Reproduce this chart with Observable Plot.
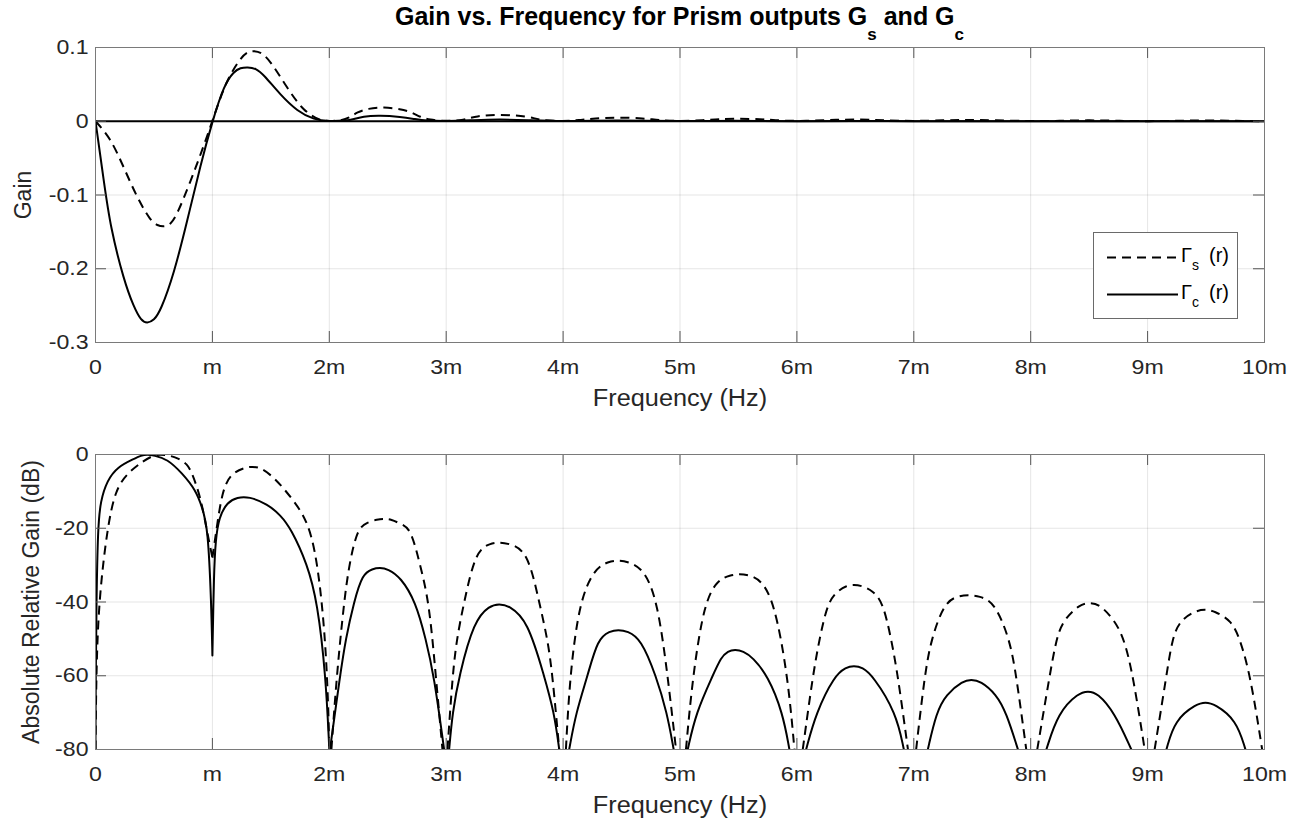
<!DOCTYPE html>
<html>
<head>
<meta charset="utf-8">
<script src="https://cdn.jsdelivr.net/npm/d3@7"></script>
<script src="https://cdn.jsdelivr.net/npm/@observablehq/plot@0.6"></script>
<style>
  body { margin: 0; background: #fff; }
  #wrap { position: relative; width: 1292px; height: 826px; font-family: "Liberation Sans", Arial, Helvetica, sans-serif; color: #262626; overflow: hidden; }
  #title { position: absolute; left: 95px; width: 1169px; top: 4px; text-align: center; font-weight: bold; font-size: 25px; line-height: 24px; color: #000; white-space: nowrap; }
  #title .sub { font-size: 17px; position: relative; top: 15px; }
  #top { position: absolute; left: 0; top: 36px; }
  #bot { position: absolute; left: 0; top: 408px; }
</style>
</head>
<body>
<div id="wrap">
  <div id="title">Gain vs. Frequency for Prism outputs G<span class="sub">s</span> and G<span class="sub">c</span></div>
  <div id="top"></div>
  <div id="bot"></div>
</div>
<script>
// ---- tick values and labels ----
const xTicks = [0, 1, 2, 3, 4, 5, 6, 7, 8, 9, 10];
const xTickLabels = ["0", "m", "2m", "3m", "4m", "5m", "6m", "7m", "8m", "9m", "10m"];
const gainTicks = [0.1, 0, -0.1, -0.2, -0.3];
const gainTickLabels = ["0.1", "0", "-0.1", "-0.2", "-0.3"];
const dbTicks = [0, -20, -40, -60, -80];
const dbTickLabels = ["0", "-20", "-40", "-60", "-80"];

// ---- top panel: Gain of Γs (dashed) ----
const gsFreq = [0, 0.128, 0.243, 0.357, 0.471, 0.53, 0.585, 0.64, 0.70, 0.814, 0.899, 1.0, 1.114, 1.24, 1.30, 1.356, 1.42, 1.5, 1.64, 1.78, 1.92, 2.0,
  2.1, 2.17, 2.24, 2.33, 2.466, 2.61, 2.7, 2.78, 2.854, 3.0,
  3.153, 3.253, 3.453, 3.696, 3.795, 4.0,
  4.138, 4.266, 4.467, 4.694, 4.809, 5.0,
  5.208, 5.322, 5.508, 5.693, 5.807, 6.0,
  6.264, 6.35, 6.487, 6.65, 6.735, 7.0,
  7.263, 7.463, 7.69, 8.0,
  8.219, 8.276, 8.504, 8.718, 8.8, 9.0,
  9.21, 9.275, 9.489, 9.717, 9.79, 10.0];
const gsGain = [0, -0.0225, -0.063, -0.104, -0.135, -0.1415, -0.143, -0.1405, -0.126, -0.081, -0.045, 0, 0.054, 0.0856, 0.0945, 0.0955, 0.0935, 0.081, 0.045, 0.0135, 0.001, 0,
  0.001, 0.0045, 0.0125, 0.0172, 0.0193, 0.0166, 0.0125, 0.0055, 0.002, 0,
  0.00143, 0.0072, 0.0092, 0.0072, 0.00143, 0,
  0.00143, 0.0040, 0.00525, 0.0040, 0.00143, 0,
  0.00143, 0.0029, 0.00343, 0.0029, 0.00143, 0,
  0.00143, 0.00202, 0.00246, 0.00202, 0.00143, 0,
  0.00143, 0.00178, 0.00143, 0,
  0.00045, 0.0008, 0.0014, 0.0008, 0.00045, 0,
  0.00045, 0.0008, 0.00114, 0.0008, 0.00045, 0];

// ---- top panel: Gain of Γc (solid) ----
const gcFreq = [0, 0.071, 0.128, 0.243, 0.328, 0.39, 0.442, 0.50, 0.557, 0.671, 0.785, 0.899, 1.0, 1.1, 1.185, 1.24, 1.30, 1.37, 1.44, 1.58, 1.727, 1.87, 2.0,
  2.14, 2.211, 2.283, 2.432, 2.611, 2.74, 2.825, 3.0,
  3.239, 3.453, 3.696, 4.0,
  4.295, 4.472, 4.666, 5.0,
  5.351, 5.471, 5.622, 6.0,
  6.487, 7.0, 7.491, 8.0, 8.49, 9.0, 9.495, 10.0];
const gcGain = [0, -0.081, -0.144, -0.216, -0.252, -0.2705, -0.274, -0.270, -0.257, -0.207, -0.135, -0.0586, 0, 0.0495, 0.0676, 0.0725, 0.0734, 0.072, 0.063, 0.036, 0.0135, 0.002, 0,
  0.00087, 0.00274, 0.0066, 0.0080, 0.0059, 0.00274, 0.00087, 0,
  0.00154, 0.00259, 0.00154, 0,
  0.00087, 0.00116, 0.00087, 0,
  0.00049, 0.00062, 0.00049, 0,
  0.000375, 0, 0.000244, 0, 0.00017, 0, 0.00012, 0];

// ---- bottom panel: dB of Γs (dashed); NaN = break (below -80 dB, or the notch at m) ----
const dsFreq = [0, 0.006, 0.027, 0.1, 0.17, 0.27, 0.414, 0.50, 0.556, 0.62, 0.70, 0.785, 0.828, 0.899, 0.949, 1.0, NaN,
  1.0, 1.036, 1.085, 1.156, 1.28, 1.342, 1.41, 1.527, 1.698, 1.855, 1.941, 1.984, 2.0, NaN,
  2.018, 2.063, 2.126, 2.169, 2.24, 2.326, 2.41, 2.466, 2.53, 2.611, 2.697, 2.777, 2.854, 2.911, 2.968, NaN,
  3.011, 3.054, 3.09, 3.153, 3.253, 3.38, 3.453, 3.53, 3.696, 3.795, 3.867, 3.91, 3.967, NaN,
  4.024, 4.058, 4.138, 4.266, 4.39, 4.467, 4.55, 4.694, 4.809, 4.895, 4.966, NaN,
  5.051, 5.109, 5.208, 5.322, 5.43, 5.508, 5.59, 5.693, 5.807, 5.922, 5.979, NaN,
  6.05, 6.136, 6.193, 6.264, 6.35, 6.42, 6.487, 6.56, 6.65, 6.735, 6.807, 6.864, 6.95, NaN,
  7.02, 7.092, 7.149, 7.263, 7.38, 7.463, 7.56, 7.69, 7.82, 7.877, 7.962, NaN,
  8.056, 8.162, 8.219, 8.276, 8.42, 8.504, 8.59, 8.718, 8.8, 8.876, 8.975, NaN,
  9.06, 9.161, 9.21, 9.275, 9.41, 9.489, 9.57, 9.717, 9.79, 9.88, 9.98];
const dsDb = [-80, -60, -40, -20, -9.6, -5.1, -1.6, -0.2, 0, -0.2, -0.9, -2.5, -5.2, -11.6, -20, -28, NaN,
  -28, -20, -9.8, -5.2, -3.5, -3.3, -3.5, -6.1, -12.5, -20, -40, -60, -80, NaN,
  -80, -60, -40, -30, -20, -18.4, -17.6, -17.4, -17.6, -18.8, -20, -30, -40, -60, -80, NaN,
  -80, -60, -50, -40, -26, -24.1, -23.8, -24.1, -26, -40, -50, -60, -80, NaN,
  -80, -60, -40, -31, -29.0, -28.7, -29.0, -31, -40, -60, -80, NaN,
  -80, -60, -40, -34, -32.7, -32.4, -32.7, -34, -40, -60, -80, NaN,
  -80, -60, -50, -40, -37, -35.6, -35.3, -35.6, -37, -40, -50, -60, -80, NaN,
  -80, -60, -50, -40, -38.4, -38.1, -38.4, -40, -50, -60, -80, NaN,
  -80, -60, -50, -45, -40.6, -40.2, -40.6, -45, -50, -60, -80, NaN,
  -80, -60, -50, -45, -42.4, -42, -42.4, -45, -50, -60, -80];

// ---- bottom panel: dB of Γc (solid) ----
const dcFreq = [0, 0.002, 0.008, 0.02, 0.043, 0.1, 0.186, 0.328, 0.39, 0.442, 0.50, 0.614, 0.742, 0.856, 0.913, 0.962, 0.99, 1.0, NaN,
  1.0, 1.013, 1.027, 1.056, 1.128, 1.213, 1.312, 1.47, 1.584, 1.67, 1.812, 1.898, 1.97, 2.0, NaN,
  2.006, 2.092, 2.14, 2.211, 2.283, 2.37, 2.432, 2.50, 2.611, 2.74, 2.825, 2.896, 2.982, NaN,
  3.025, 3.054, 3.11, 3.239, 3.37, 3.453, 3.54, 3.696, 3.838, 3.924, 3.967, NaN,
  4.052, 4.11, 4.21, 4.295, 4.40, 4.472, 4.55, 4.666, 4.795, 4.889, 4.946, NaN,
  5.066, 5.137, 5.28, 5.351, 5.41, 5.471, 5.54, 5.622, 5.751, 5.879, 5.936, NaN,
  6.079, 6.164, 6.321, 6.42, 6.487, 6.56, 6.65, 6.849, 6.915, NaN,
  7.12, 7.192, 7.277, 7.42, 7.491, 7.57, 7.705, 7.791, 7.891, NaN,
  8.134, 8.234, 8.41, 8.49, 8.57, 8.718, 8.861, NaN,
  9.161, 9.232, 9.42, 9.495, 9.57, 9.76, 9.837];
const dcDb = [-80, -60, -40, -20, -12.5, -7.05, -3.4, -1.2, -0.25, 0, -0.25, -1.2, -5.1, -9.6, -14.3, -20, -40, -54.5, NaN,
  -54.5, -32, -23.3, -17, -12.9, -11.6, -11.4, -13.4, -16.5, -20, -29.7, -40, -60, -80, NaN,
  -80, -60, -50, -40, -32.4, -31.0, -30.7, -31.0, -33.3, -40, -50, -60, -80, NaN,
  -80, -70, -60, -45, -41.0, -40.5, -41.0, -45, -60, -70, -80, NaN,
  -80, -70, -60, -50, -47.9, -47.5, -47.9, -50, -60, -70, -80, NaN,
  -80, -70, -60, -55, -53.3, -52.9, -53.3, -55, -60, -70, -80, NaN,
  -80, -70, -60, -57.7, -57.3, -57.7, -60, -70, -80, NaN,
  -80, -70, -65, -61.4, -61, -61.4, -65, -70, -80, NaN,
  -80, -70, -64.6, -64.2, -64.6, -70, -80, NaN,
  -80, -72, -67.6, -67.2, -67.6, -72, -80];

const rows = (xs, ys) => xs.map((x, i) => ({x, y: ys[i]}));

const FONT = '"Liberation Sans", Arial, Helvetica, sans-serif';
const W = 1292, MR = 28, ML = 95;
const PLOT_H = 295, PLOT_W = W - ML - MR;
const TICK_LEN = 11;
const gridColor = "#000", gridOpacity = 0.1;
const frameColor = "#7a7a7a";
const tickColor = "#555";
const DASH = "9,6";
const CURVE = "basis";

function panel({height, marginTop, marginBottom, yDomain, yTicks, yTickLabels, yLabel, yLabelDx, dashed, solid, extra}) {
  return Plot.plot({
    width: W, height, marginLeft: ML, marginRight: MR, marginTop, marginBottom,
    style: {fontFamily: FONT, fontSize: "21px", color: "#262626", background: "transparent", overflow: "visible"},
    x: {domain: [0, 10]},
    y: {domain: yDomain},
    marks: [
      Plot.gridX(xTicks, {stroke: gridColor, strokeOpacity: gridOpacity}),
      Plot.gridY(yTicks, {stroke: gridColor, strokeOpacity: gridOpacity}),
      ...(extra || []),
      Plot.line(dashed, {x: "x", y: "y", stroke: "black", strokeWidth: 2, strokeDasharray: DASH, strokeLinecap: "butt", curve: CURVE, clip: true}),
      Plot.line(solid, {x: "x", y: "y", stroke: "black", strokeWidth: 2, curve: CURVE, clip: true}),
      // inward ticks (top, bottom, left, right)
      Plot.tickX(xTicks, {x: d => d, stroke: tickColor, insetBottom: PLOT_H - TICK_LEN}),
      Plot.tickX(xTicks, {x: d => d, stroke: tickColor, insetTop: PLOT_H - TICK_LEN}),
      Plot.tickY(yTicks, {y: d => d, stroke: tickColor, insetRight: PLOT_W - TICK_LEN}),
      Plot.tickY(yTicks, {y: d => d, stroke: tickColor, insetLeft: PLOT_W - TICK_LEN}),
      Plot.frame({stroke: frameColor}),
      Plot.axisX(xTicks, {tickSize: 0, tickPadding: 17, tickFormat: d => xTickLabels[xTicks.indexOf(d)], label: null, fontSize: 21}),
      Plot.axisY(yTicks, {tickSize: 0, tickPadding: 7, tickFormat: d => yTickLabels[yTicks.indexOf(d)], label: null, fontSize: 21}),
      Plot.text(["Frequency (Hz)"], {text: d => d, frameAnchor: "bottom", dy: 56, lineAnchor: "middle", fontSize: 23}),
      Plot.text([yLabel], {text: d => d, frameAnchor: "left", dx: yLabelDx, rotate: -90, lineAnchor: "middle", textAnchor: "middle", fontSize: 23})
    ]
  });
}

// widen horizontal text slightly (the reference glyphs are a little wider than Arial)
function widen(svg, k) {
  svg.querySelectorAll("text").forEach(t => {
    const tr = (t.getAttribute("transform") || "");
    if (tr.includes("rotate")) return;
    const len = t.getComputedTextLength();
    if (len > 0) {
      t.setAttribute("textLength", (len * k).toFixed(2));
      t.setAttribute("lengthAdjust", "spacingAndGlyphs");
    }
  });
}

const topPlot = panel({
  height: 372, marginTop: 11, marginBottom: 66,
  yDomain: [-0.3, 0.1], yTicks: gainTicks, yTickLabels: gainTickLabels,
  yLabel: "Gain", yLabelDx: -72,
  dashed: rows(gsFreq, gsGain), solid: rows(gcFreq, gcGain),
  extra: [Plot.ruleY([0], {stroke: "black", strokeWidth: 2})]
});
document.getElementById("top").appendChild(topPlot);
widen(topPlot, 1.1);

const botPlot = panel({
  height: 418, marginTop: 46, marginBottom: 77,
  yDomain: [-80, 0], yTicks: dbTicks, yTickLabels: dbTickLabels,
  yLabel: "Absolute Relative Gain (dB)", yLabelDx: -64,
  dashed: rows(dsFreq, dsDb), solid: rows(dcFreq, dcDb)
});
document.getElementById("bot").appendChild(botPlot);
widen(botPlot, 1.1);

// ---- legend (inside the top panel, lower right) ----
const lg = d3.select("#wrap").append("svg")
  .attr("width", 146).attr("height", 88)
  .style("position", "absolute").style("left", "1093px").style("top", "232px")
  .style("font-family", FONT);
lg.append("rect").attr("x", 0.5).attr("y", 0.5).attr("width", 144).attr("height", 86)
  .attr("fill", "white").attr("stroke", "#6a6a6a");
const entries = [
  {y: 25.5, dash: DASH, main: "Γ", sub: "s"},
  {y: 62.5, dash: null, main: "Γ", sub: "c"}
];
entries.forEach(e => {
  lg.append("line").attr("x1", 14).attr("x2", 85).attr("y1", e.y).attr("y2", e.y)
    .attr("stroke", "black").attr("stroke-width", 2)
    .attr("stroke-dasharray", e.dash).attr("stroke-linecap", "butt");
  const t = lg.append("text").attr("x", 88).attr("y", e.y + 4.5).attr("font-size", 20).attr("fill", "#000");
  t.append("tspan").text(e.main);
  t.append("tspan").attr("dy", 8).attr("font-size", 14).text(e.sub);
  t.append("tspan").attr("dy", -8).attr("x", 116).text("(r)");
});
</script>
</body>
</html>
